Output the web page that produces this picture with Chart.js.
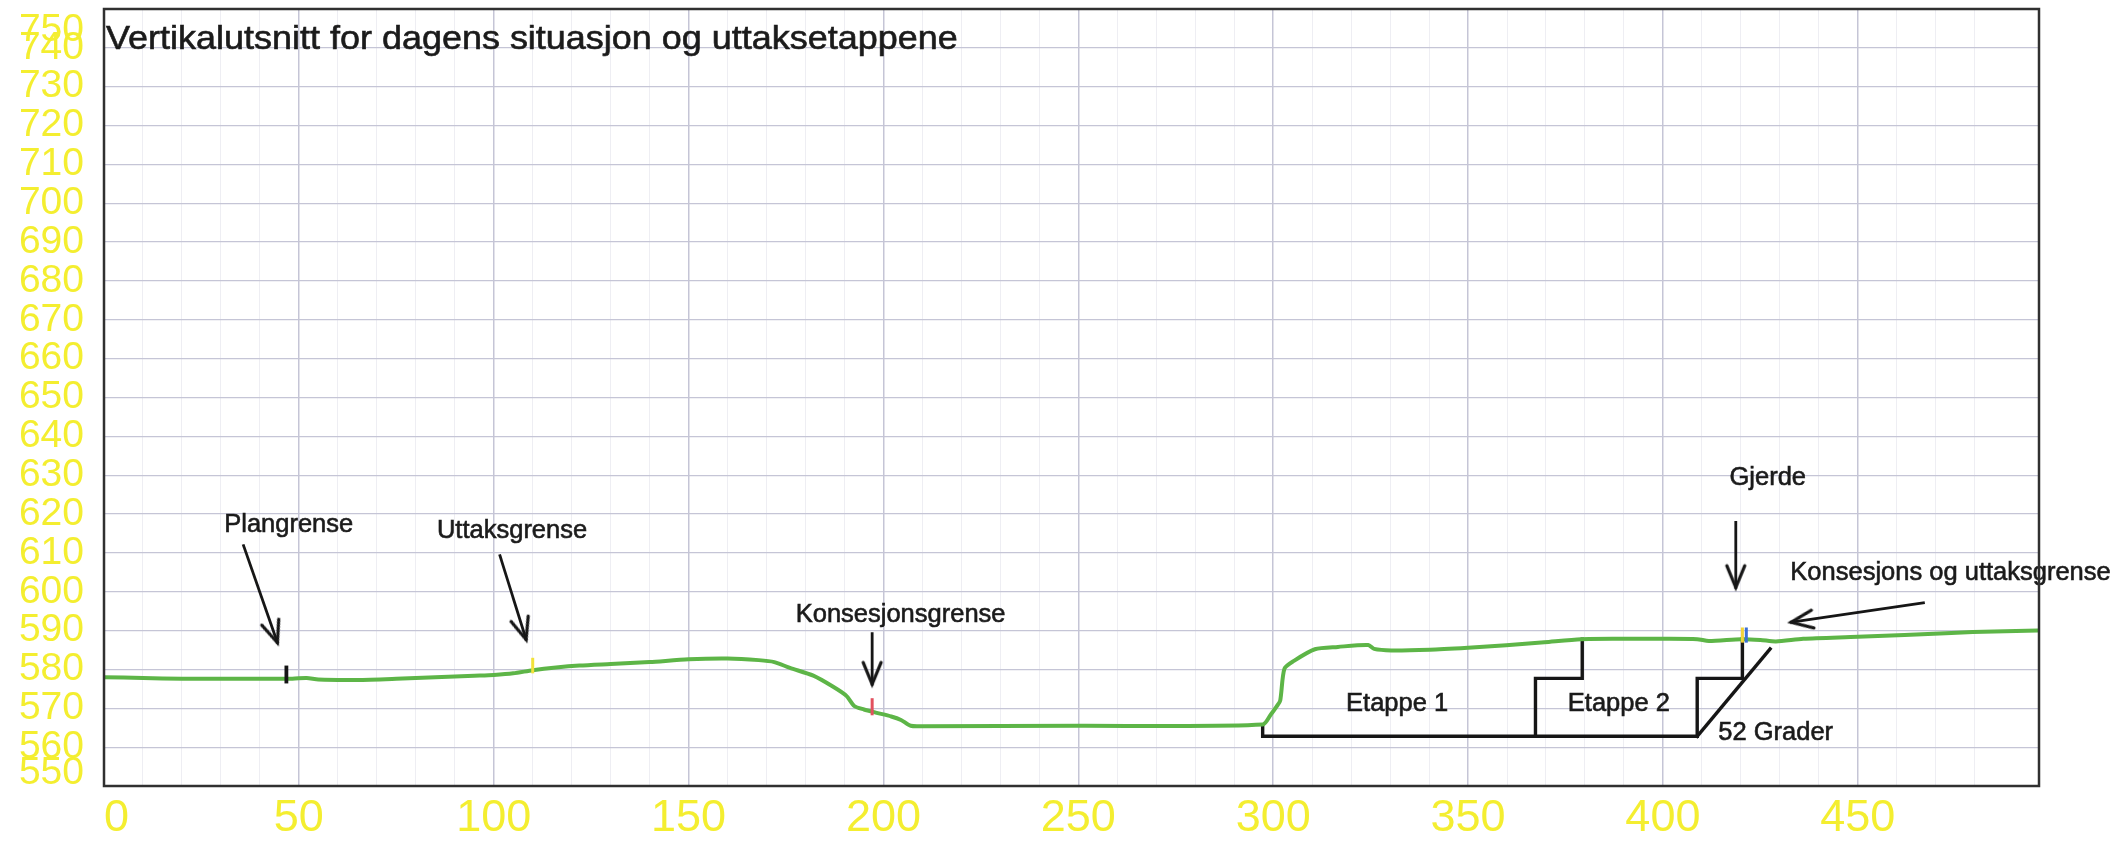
<!DOCTYPE html>
<html>
<head>
<meta charset="utf-8">
<script src="https://cdn.jsdelivr.net/npm/chart.js@4.4.1/dist/chart.umd.min.js"></script>
<style>
html,body{margin:0;padding:0;background:#ffffff;}
#wrap{width:2120px;height:845px;position:relative;background:#ffffff;}
</style>
</head>
<body>
<div id="wrap"><canvas id="c" width="2120" height="845"></canvas></div>
<script>
// ---------------- data ----------------
const titleText = 'Vertikalutsnitt for dagens situasjon og uttaksetappene';

const xTickValues = [0, 50, 100, 150, 200, 250, 300, 350, 400, 450];
const yTickValues = [550, 560, 570, 580, 590, 600, 610, 620, 630, 640, 650, 660, 670, 680, 690, 700, 710, 720, 730, 740, 750];

// terrain profile (distance, elevation)
const terrainX = [0,10,20,30,40,47,52,55,65,75,85,95,100,105,110,116,122,130,140,150,160,168,172,176,182,187,190.5,192.5,195,198,202,204.5,207,210,250,297.3,299.4,300.9,301.8,302.9,305.3,310.7,316.6,324.4,325.9,330.3,340.2,350,359.8,369.6,379,389,400,408.8,411.8,420.1,425,429,436,450,474,485,496.2];
const terrainY = [578.0,577.8,577.6,577.6,577.6,577.6,577.8,577.4,577.3,577.6,578.0,578.4,578.6,579.0,579.8,580.5,581.0,581.4,581.9,582.6,582.8,582.4,581.9,580.4,578.4,575.6,573.2,570.6,569.7,568.9,567.9,567.0,565.5,565.4,565.5,565.8,568.4,570.5,572.0,580.2,582.2,585.2,585.8,586.3,585.3,584.9,585.1,585.6,586.2,587.0,587.8,587.9,587.9,587.8,587.3,587.8,587.6,587.2,587.9,588.4,589.4,589.8,590.0];

// extraction stages (black outline)
const bottomX = [297.3, 297.3, 408.8];
const bottomY = [565.8, 562.8, 562.8];
const step1X = [367.3, 367.3, 379.3, 379.3];
const step1Y = [562.8, 577.7, 577.7, 587.8];
const step2X = [408.8, 408.8, 420.4, 420.4];
const step2Y = [562.8, 577.7, 577.7, 587.9];
const slopeX = [408.8, 427.5];
const slopeY = [562.8, 585.3];

// boundary markers (short vertical ticks on the profile)
const markerX    = [46.8, 110.0, 197.1, 420.4, 421.4];
const markerLow  = [576.4, 579.0, 568.2, 586.9, 586.9];
const markerHigh = [581.0, 583.0, 572.6, 590.8, 590.8];
const markerColors = ['#151515', '#f2e23a', '#e2505e', '#f2d43a', '#3b6fd4'];

// arrows (from -> to)
const arrowFromX = [35.7, 101.5, 197.1, 418.7, 467.2];
const arrowFromY = [612.2, 609.6, 589.6, 618.2, 597.2];
const arrowToX   = [44.6, 108.4, 197.1, 418.7, 432.6];
const arrowToY   = [586.6, 587.4, 575.9, 600.8, 592.1];

// text notes
const noteText  = ['Plangrense', 'Uttaksgrense', 'Konsesjonsgrense', 'Gjerde', 'Konsesjons og uttaksgrense', 'Etappe 1', 'Etappe 2', '52 Grader'];
const noteX     = [47.4, 104.7, 204.4, 426.9, 473.8, 331.8, 388.7, 414.2];
const noteY     = [617.2, 615.6, 594.1, 629.2, 604.9, 571.0, 571.0, 563.6];
const noteAlign = ['center', 'center', 'center', 'center', 'center', 'center', 'center', 'left'];

// ---------------- helpers ----------------
const FONT = "'Liberation Sans', Arial, Helvetica, sans-serif";
Chart.defaults.font.family = FONT;
const YELLOW = '#f4ee30';
const GRID_MAJOR = '#c5c5d6';
const GRID_MINOR = '#eeeef3';

function pts(xs, ys) { return xs.map((x, i) => ({x: x, y: ys[i]})); }

// open "V" arrow head image, tip at image centre, pointing to +x
const arrowImg = (function () {
  const c = document.createElement('canvas');
  c.width = 64; c.height = 64;
  const g = c.getContext('2d');
  g.strokeStyle = '#161616';
  g.lineWidth = 3;
  g.lineCap = 'round';
  g.lineJoin = 'miter';
  g.beginPath();
  g.moveTo(32 - 23, 32 - 9);
  g.lineTo(31, 32);
  g.lineTo(32 - 23, 32 + 9);
  g.stroke();
  return c;
})();

function arrowRotation(ctx) {
  if (ctx.type !== 'data') return 0;
  const d = ctx.dataset.data;
  const sx = ctx.chart.scales.x, sy = ctx.chart.scales.y;
  const dx = sx.getPixelForValue(d[1].x) - sx.getPixelForValue(d[0].x);
  const dy = sy.getPixelForValue(d[1].y) - sy.getPixelForValue(d[0].y);
  return Math.atan2(dy, dx) * 180 / Math.PI;
}

const datasets = [];

// construction lines
[[bottomX, bottomY], [step1X, step1Y], [step2X, step2Y], [slopeX, slopeY]].forEach(([xs, ys]) => {
  datasets.push({
    data: pts(xs, ys), showLine: true, borderColor: '#161616', borderWidth: 3.4,
    pointRadius: 0, borderJoinStyle: 'miter', borderCapStyle: 'square', order: 3
  });
});

// terrain
datasets.push({
  data: pts(terrainX, terrainY), showLine: true, borderColor: '#5db547', borderWidth: 4,
  pointRadius: 0, tension: 0.25, borderJoinStyle: 'round', borderCapStyle: 'round', order: 2
});

// markers
markerX.forEach((x, i) => {
  datasets.push({
    data: [{x: x, y: markerLow[i]}, {x: x, y: markerHigh[i]}], showLine: true,
    borderColor: markerColors[i], borderWidth: i === 0 ? 3.8 : 3, pointRadius: 0, order: 1
  });
});

// arrows
arrowFromX.forEach((x, i) => {
  datasets.push({
    data: [{x: x, y: arrowFromY[i]}, {x: arrowToX[i], y: arrowToY[i]}], showLine: true,
    borderColor: '#161616', borderWidth: 2.8, order: 0,
    pointRadius: (ctx) => ctx.dataIndex === 1 ? 6 : 0,
    pointStyle: (ctx) => ctx.dataIndex === 1 ? arrowImg : 'circle',
    pointRotation: arrowRotation,
    pointBackgroundColor: 'rgba(0,0,0,0)', pointBorderWidth: 0
  });
});

const notesPlugin = {
  id: 'notes',
  afterDatasetsDraw(chart) {
    const {ctx, chartArea} = chart;
    const sx = chart.scales.x, sy = chart.scales.y;
    ctx.save();
    ctx.fillStyle = '#1b1b1b';
    ctx.strokeStyle = '#1b1b1b';
    ctx.lineWidth = 0.6;
    ctx.font = '25.5px ' + FONT;
    ctx.textBaseline = 'middle';
    noteText.forEach((t, i) => {
      ctx.textAlign = noteAlign[i];
      const px = sx.getPixelForValue(noteX[i]), py = sy.getPixelForValue(noteY[i]);
      ctx.fillText(t, px, py);
      ctx.strokeText(t, px, py);
    });
    // chart title inside the plot frame, slightly wide lettering like the original
    ctx.font = '33px ' + FONT;
    ctx.textAlign = 'left';
    ctx.textBaseline = 'alphabetic';
    ctx.translate(chartArea.left + 2, chartArea.top + 40);
    ctx.scale(1.09, 1);
    ctx.fillText(titleText, 0, 0);
    ctx.strokeText(titleText, 0, 0);
    ctx.restore();
  }
};

const framePlugin = {
  id: 'frame',
  afterDraw(chart) {
    const a = chart.chartArea, ctx = chart.ctx;
    ctx.save();
    ctx.strokeStyle = '#303030';
    ctx.lineWidth = 2.5;
    ctx.strokeRect(a.left, a.top, a.right - a.left, a.bottom - a.top);
    ctx.restore();
  }
};

new Chart(document.getElementById('c'), {
  type: 'scatter',
  data: {datasets: datasets},
  plugins: [notesPlugin, framePlugin],
  options: {
    responsive: false,
    devicePixelRatio: 1,
    animation: false,
    events: [],
    layout: {padding: {left: 0, right: 81, top: 9, bottom: 0}},
    plugins: {legend: {display: false}, tooltip: {enabled: false}, title: {display: false}},
    scales: {
      x: {
        type: 'linear', min: 0, max: 496.5,
        border: {display: false},
        grid: {
          drawTicks: false,
          color: (ctx) => (ctx.tick && ctx.tick.value % 50 === 0) ? GRID_MAJOR : GRID_MINOR,
          lineWidth: (ctx) => (ctx.tick && ctx.tick.value % 50 === 0) ? 1.5 : 1
        },
        ticks: {
          stepSize: 10, autoSkip: false, maxRotation: 0, maxTicksLimit: 200,
          padding: 6, color: YELLOW, font: {size: 45},
          callback: (v) => xTickValues.includes(v) ? (v === 0 ? '  0' : String(v)) : ''
        },
        afterFit(scale) { scale.height = 59; scale.paddingLeft = 0; scale.paddingRight = 0; }
      },
      y: {
        type: 'linear', min: 550, max: 750,
        border: {display: false},
        grid: {drawTicks: false, color: GRID_MAJOR, lineWidth: 1.3},
        ticks: {
          stepSize: 10, autoSkip: false, maxTicksLimit: 200,
          padding: 20, color: YELLOW,
          font: (ctx) => {
            const v = ctx.tick ? ctx.tick.value : null;
            if (v === yTickValues[yTickValues.length - 1]) return {size: 39, lineHeight: '42px'};
            if (v === yTickValues[0]) return {size: 39, lineHeight: '26px'};
            return {size: 39, lineHeight: 1.2};
          },
          callback: (v) => {
            if (!yTickValues.includes(v)) return '';
            if (v === yTickValues[yTickValues.length - 1]) return ['', String(v)];
            if (v === yTickValues[0]) return [String(v), ''];
            return String(v);
          }
        },
        afterFit(scale) { scale.width = 104; scale.paddingTop = 0; scale.paddingBottom = 0; }
      }
    }
  }
});
</script>
</body>
</html>
